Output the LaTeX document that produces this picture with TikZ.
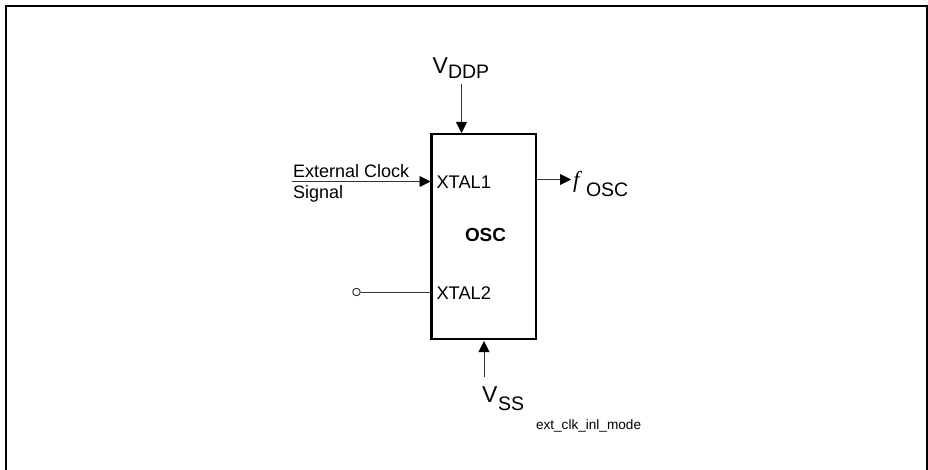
\documentclass[tikz,border=0pt]{standalone}
\usepackage{fontspec}
\setmainfont{Liberation Sans}
\newfontfamily\timesfont{Liberation Serif}
\usetikzlibrary{arrows.meta}
\newcommand{\fs}[1]{\fontsize{#1}{#1}\selectfont}
\tikzset{
  frameline/.style={draw=black,line width=2pt},
  oscbox/.style={draw=black,line width=2.2pt,minimum width=104.5pt,minimum height=205pt,inner sep=0pt,outer sep=1.1pt},
  wire/.style={draw=black!80,line width=0.9pt},
  arrowwire/.style={wire,-{Triangle[length=11pt,width=11pt,black]}},
  lbl/.style={anchor=base west,inner sep=0pt,outer sep=0pt,font=\fs{18.3}},
  powerV/.style={anchor=base west,inner sep=0pt,outer sep=0pt,font=\fs{23}},
  powerS/.style={anchor=base west,inner sep=0pt,outer sep=0pt,font=\fs{19.5}},
  termdot/.style={circle,draw=black!85,fill=white,line width=0.9pt,minimum size=7.5pt,inner sep=0pt},
}
\begin{document}
\begin{tikzpicture}[x=1pt,y=-1pt]
\useasboundingbox (0,0) rectangle (928,470);
\draw[frameline] (6,471) -- (6,6.5) -- (927,6.5) -- (927,471);

\node[oscbox] (box) at (483.75,236.5) {};
\node[lbl,font=\fs{18.9}\bfseries,anchor=base] (osc) at (485.5,241.5) {OSC};
\node[lbl] (xtal1) at (436.5,188.5) {XTAL1};
\node[lbl] (xtal2) at (436.5,299) {XTAL2};

\node[powerV] (vddV) at (432.5,74) {V};
\node[powerS] (vddS) at (448,79) {DDP};
\node[powerV] (vssV) at (482,402) {V};
\node[powerS] (vssS) at (498,410) {SS};
\node[lbl,font=\timesfont\itshape\fs{23}] (fsym) at (573,188) {f};
\node[powerS] (foscS) at (586,197) {OSC};

\node[lbl,font=\fs{18}] (ext) at (293,178) {External Clock};
\node[lbl,font=\fs{18}] (sig) at (293,199) {Signal};
\node[lbl,font=\fs{13.6}] (mode) at (536,429) {ext\_clk\_inl\_mode};

\coordinate (vddend) at (461.5,84.5);
\coordinate (vddtip) at (461.5,133);
\coordinate (vsstail) at (484,376.5);
\coordinate (vsstip) at (484,341);
\coordinate (clktail) at (292,181.5);
\coordinate (clktip) at (430.5,181.5);
\coordinate (ftail) at (537,179.5);
\coordinate (ftip) at (571,179.5);
\coordinate (x2end) at (431,292);
\node[termdot] (dot) at (356.5,292) {};

\draw[arrowwire] (vddend) -- (vddtip);
\draw[arrowwire] (vsstail) -- (vsstip);
\draw[arrowwire] (clktail) -- (clktip);
\draw[arrowwire] (ftail) -- (ftip);
\draw[wire] (dot) -- (x2end);
\end{tikzpicture}
\end{document}
